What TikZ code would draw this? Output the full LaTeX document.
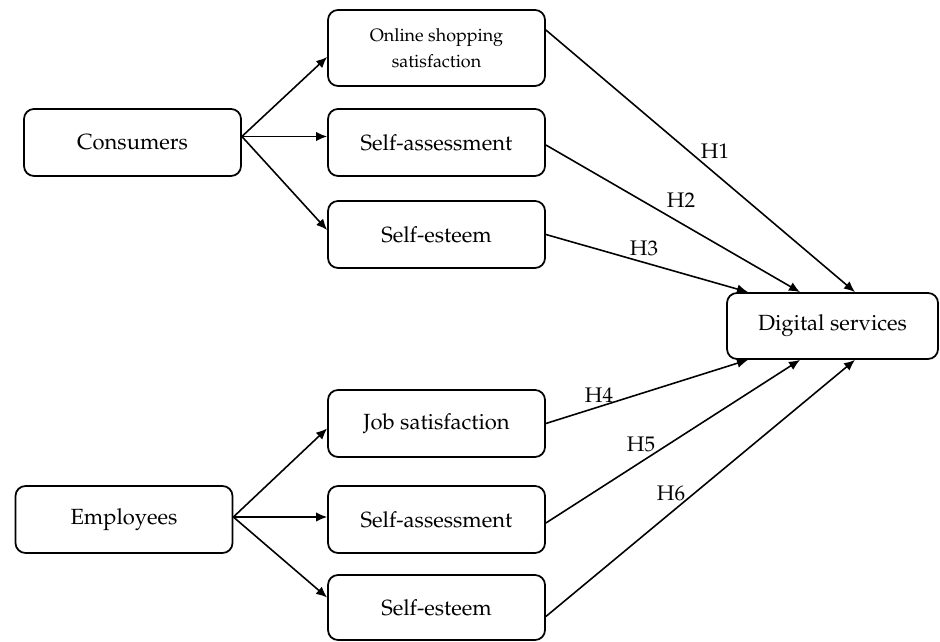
\documentclass[tikz,border=0pt]{standalone}
\usepackage[T1]{fontenc}
\usepackage{mathpazo}
\usepackage{tikz}
\usetikzlibrary{arrows.meta}

\begin{document}
\begin{tikzpicture}[box/.style={draw, rounded corners=0.2cm, line width=1pt, minimum width=4.34cm, minimum height=1.34cm, align=center, font=\fontsize{12.5}{15}\selectfont}, hyp/.style={inner sep=0pt, font=\fontsize{12}{14}\selectfont}, link/.style={line width=0.9pt, -{Latex[length=0.22cm,width=0.19cm]}}]

\useasboundingbox (0,0) rectangle (18.8,12.82);

% left side
\node[box](cons) at (2.65,9.97) {Consumers};
\node[box](empl) at (2.48,2.43) {Employees};

% middle
\node[box, minimum height=1.52cm, font=\fontsize{10.2}{14.5}\selectfont](online) at (8.73,11.86) {Online shopping\\satisfaction};
\node[box](assessA) at (8.73,9.97) {Self-assessment};
\node[box](esteemA) at (8.73,8.13) {Self-esteem};
\node[box](job) at (8.73,4.35) {Job satisfaction};
\node[box](assessB) at (8.73,2.43) {Self-assessment};
\node[box, minimum height=1.3cm](esteemB) at (8.73,0.67) {Self-esteem};

% right
\node[box, minimum width=4.22cm, minimum height=1.32cm](digital) at (16.65,6.30) {Digital services};

\draw[link] ([yshift=0.12cm]cons.east) -- ([yshift=-0.18cm]online.west);
\draw[link] ([yshift=0.12cm]cons.east) -- ([yshift=0.12cm]assessA.west);
\draw[link] ([yshift=0.12cm]cons.east) -- ([yshift=0.09cm]esteemA.west);

\draw[link] ([yshift=0.05cm]empl.east) -- ([yshift=-0.1cm]job.west);
\draw[link] ([yshift=0.05cm]empl.east) -- ([yshift=0.05cm]assessB.west);
\draw[link] ([yshift=0.05cm]empl.east) -- ([yshift=0.2cm]esteemB.west);

\draw[link] ([yshift=0.36cm]online.east) -- ([xshift=0.45cm]digital.north);
\draw[link] ([yshift=-0.05cm]assessA.east) -- ([xshift=-0.65cm]digital.north);
\draw[link] (esteemA.east) -- ([xshift=-1.69cm]digital.north);

\draw[link] (job.east) -- ([xshift=-1.69cm]digital.south);
\draw[link] ([yshift=-0.07cm]assessB.east) -- ([xshift=-0.65cm]digital.south);
\draw[link] ([yshift=-0.18cm]esteemB.east) -- ([xshift=0.45cm]digital.south);

\node[hyp](h1) at (14.30,9.80) {H1};
\node[hyp](h2) at (13.62,8.82) {H2};
\node[hyp](h3) at (12.88,7.86) {H3};
\node[hyp](h4) at (11.98,4.92) {H4};
\node[hyp](h5) at (12.82,3.94) {H5};
\node[hyp](h6) at (13.42,2.96) {H6};

\end{tikzpicture}
\end{document}
